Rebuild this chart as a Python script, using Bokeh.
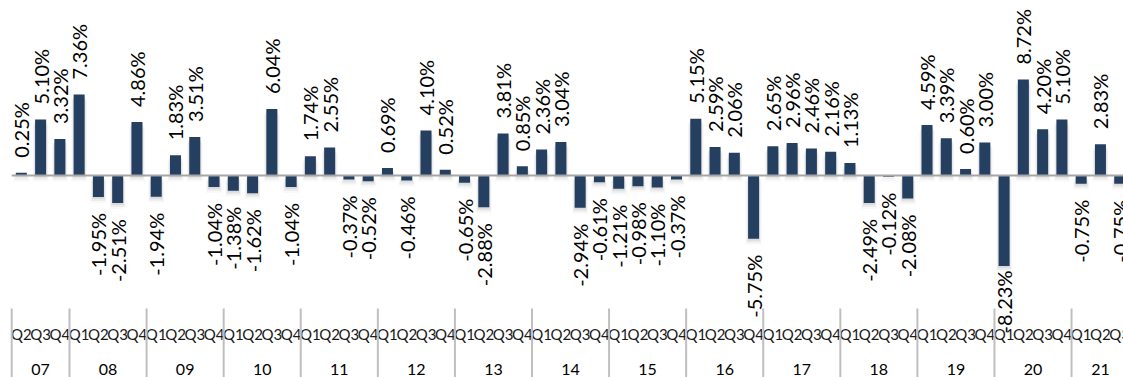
import math

from bokeh.core.properties import value
from bokeh.embed import file_html
from bokeh.models import ColumnDataSource, Range1d
from bokeh.plotting import figure
from bokeh.resources import INLINE

# Quarter-on-quarter growth, 2007 Q2 to 2021 Q3
year_labels = ["07", "08", "09", "10", "11", "12", "13", "14",
               "15", "16", "17", "18", "19", "20", "21"]
quarter_labels = (["Q2", "Q3", "Q4"]
                  + ["Q1", "Q2", "Q3", "Q4"] * 13
                  + ["Q1", "Q2", "Q3"])
quarter_years = (["07"] * 3
                 + [y for y in year_labels[1:-1] for _ in range(4)]
                 + ["21"] * 3)
growth_pct = [
    0.25, 5.10, 3.32,
    7.36, -1.95, -2.51, 4.86,
    -1.94, 1.83, 3.51, -1.04,
    -1.38, -1.62, 6.04, -1.04,
    1.74, 2.55, -0.37, -0.52,
    0.69, -0.46, 4.10, 0.52,
    -0.65, -2.88, 3.81, 0.85,
    2.36, 3.04, -2.94, -0.61,
    -1.21, -0.98, -1.10, -0.37,
    5.15, 2.59, 2.06, -5.75,
    2.65, 2.96, 2.46, 2.16,
    1.13, -2.49, -0.12, -2.08,
    4.59, 3.39, 0.60, 3.00,
    -8.23, 8.72, 4.20, 5.10,
    -0.75, 2.83, -0.75,
]

# ---- layout constants (pixels) ----
W, H = 1123, 377
SLOT_PX = 19.27          # width of one quarter slot
FIRST_EDGE_PX = 11.2     # left edge of the first quarter drawn
ZERO_PX = 175            # baseline position
UNIT_PX = 11.0           # pixels per percentage point
FIRST_SLOT = 1           # series starts at Q2 -> slot 1 of 2007

BAR_COLOR = "#243F60"
FONT = "Lato"


def px_to_y(py):
    return (ZERO_PX - py) / UNIT_PX


x_start = FIRST_SLOT - FIRST_EDGE_PX / SLOT_PX
x_end = x_start + W / SLOT_PX
y_start = px_to_y(H)
y_end = px_to_y(0)

p = figure(width=W, height=H, output_backend="svg", toolbar_location=None,
           x_axis_location=None, y_axis_location=None, min_border=0,
           x_range=Range1d(x_start, x_end), y_range=Range1d(y_start, y_end),
           background_fill_color="white", border_fill_color="white",
           outline_line_color=None)
p.grid.visible = False

xs = [FIRST_SLOT + i + 0.5 for i in range(len(growth_pct))]
bar_w = 11.0 / SLOT_PX

# soft drop shadow under every bar
for off_px, extra_px, alpha in [(2.0, 1.0, 0.16), (4.0, 3.0, 0.10), (6.0, 5.0, 0.05)]:
    s = off_px / UNIT_PX
    p.vbar(x=xs, width=bar_w + extra_px / SLOT_PX,
           top=[max(v, 0) - s for v in growth_pct],
           bottom=[min(v, 0) - s for v in growth_pct],
           fill_color="#808080", fill_alpha=alpha, line_color=None)

bars = ColumnDataSource(dict(x=xs, top=growth_pct))
p.vbar(x="x", top="top", bottom=0, width=bar_w, source=bars,
       fill_color=BAR_COLOR, line_color=None)

# baseline
p.segment(x0=[FIRST_SLOT], x1=[x_end + 1], y0=[0], y1=[0],
          line_color="#A6A6A6", line_width=2)

# ---- value labels, rotated ----
LABEL_SIZE = 20
GAP_UP, GAP_DOWN = 15, 16
LABEL_FLOOR_PX = 333
char_em = {"-": 0.37, ".": 0.25, "%": 0.83}


def text_len_px(t):
    return sum(char_em.get(c, 0.58) for c in t) * LABEL_SIZE


pos = dict(x=[], y=[], t=[])
neg = dict(x=[], y=[], t=[])
neg_floor = dict(x=[], y=[], t=[])
for x, v in zip(xs, growth_pct):
    t = f"{v:.2f}%"
    if v >= 0:
        pos["x"].append(x); pos["y"].append(v); pos["t"].append(t)
    else:
        end_px = ZERO_PX - v * UNIT_PX + GAP_DOWN + text_len_px(t)
        if end_px > LABEL_FLOOR_PX:
            neg_floor["x"].append(x); neg_floor["y"].append(px_to_y(LABEL_FLOOR_PX))
            neg_floor["t"].append(t)
        else:
            neg["x"].append(x); neg["y"].append(v); neg["t"].append(t)

common = dict(angle=math.pi / 2, text_font=value(FONT),
              text_font_size=f"{LABEL_SIZE}px", text_color="#000000",
              text_baseline="middle")
p.text(x="x", y="y", text="t", source=ColumnDataSource(pos),
       text_align="left", y_offset=-GAP_UP, **common)
p.text(x="x", y="y", text="t", source=ColumnDataSource(neg),
       text_align="right", y_offset=GAP_DOWN, **common)
p.text(x="x", y="y", text="t", source=ColumnDataSource(neg_floor),
       text_align="left", **common)

# ---- two-level category axis: quarters and years ----
p.text(x=xs, y=[px_to_y(333)] * len(xs), text=quarter_labels,
       text_font=value(FONT), text_font_size="15px", text_color="#1A1A1A",
       text_align="center", text_baseline="middle")

year_x, bounds = [], [FIRST_SLOT]
for yl in year_labels:
    members = [x for x, qy in zip(xs, quarter_years) if qy == yl]
    year_x.append(sum(members) / len(members))
    bounds.append(max(members) + 0.5)
p.text(x=year_x, y=[px_to_y(369)] * len(year_x), text=year_labels,
       text_font=value(FONT), text_font_size="16px", text_color="#000000",
       text_align="center", text_baseline="middle")

p.segment(x0=bounds, x1=bounds, y0=[px_to_y(308)] * len(bounds),
          y1=[y_start] * len(bounds), line_color="#BFBFBF", line_width=2)

open("out.html", "w").write(file_html(p, INLINE))
